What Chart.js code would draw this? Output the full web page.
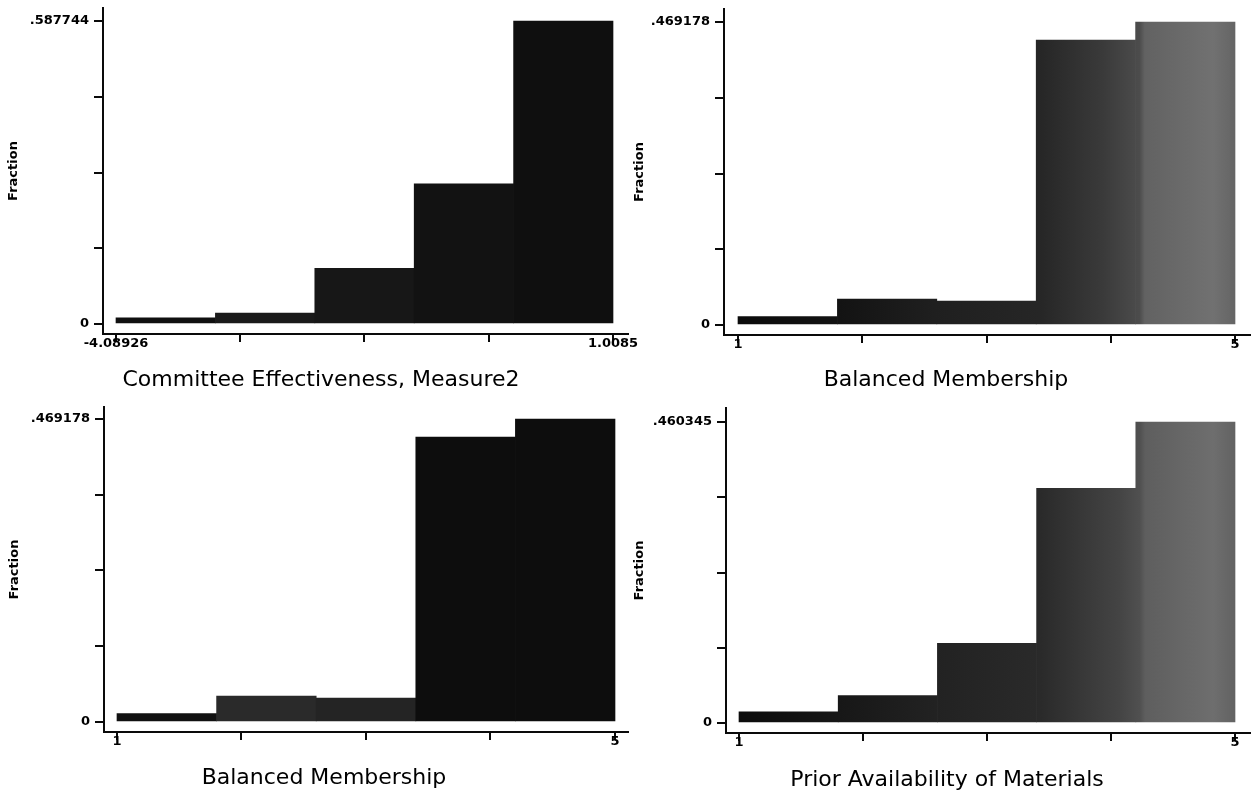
<!DOCTYPE html>
<html>
<head>
<meta charset="utf-8">
<title>Histograms</title>
<script src="https://cdn.jsdelivr.net/npm/chart.js@4.4.1/dist/chart.umd.min.js"></script>
<style>
html,body{margin:0;padding:0;background:#fff;overflow:hidden;}
#stage{position:relative;width:1251px;height:793px;overflow:hidden;background:#fff;}
#stage canvas{position:absolute;}
</style>
</head>
<body>
<div id="stage">
<canvas id="c1"></canvas><canvas id="c2"></canvas><canvas id="c3"></canvas><canvas id="c4"></canvas>
</div>
<script>
// ---------------- data ----------------
const effectivenessBinEdges   = [-4.08926, -3.069708, -2.050156, -1.030604, -0.011052, 1.0085];
const effectivenessFractions  = [0.012, 0.021, 0.108, 0.272, 0.587744];
const effectivenessXTickLabels = ['-4.08926', '1.0085'];
const effectivenessYTickLabels = ['0', '.587744'];

const membershipBinEdges   = [1, 1.8, 2.6, 3.4, 4.2, 5];
const membershipFractions  = [0.013, 0.040, 0.037, 0.441, 0.469178];
const membershipXTickLabels = ['1', '5'];
const membershipYTickLabels = ['0', '.469178'];

const materialsBinEdges   = [1, 1.8, 2.6, 3.4, 4.2, 5];
const materialsFractions  = [0.017, 0.042, 0.122, 0.359, 0.460345];
const materialsXTickLabels = ['1', '5'];
const materialsYTickLabels = ['0', '.460345'];

const yAxisTitle = 'Fraction';
const xAxisTitles = ['Committee Effectiveness, Measure2', 'Balanced Membership', 'Balanced Membership', 'Prior Availability of Materials'];

// ---------------- styling / layout ----------------
Chart.defaults.font.family = "'DejaVu Sans', 'Liberation Sans', sans-serif";
Chart.defaults.color = '#000';

const TITLE_FONT = {family: "'DejaVu Sans', sans-serif", size: 22, weight: 'normal', lineHeight: 1.2};
const TICK_FONT  = {family: "'DejaVu Sans', sans-serif", size: 13, weight: 'bold', lineHeight: 1.2};
const YT_FONT    = {family: "'DejaVu Sans', sans-serif", size: 13, weight: 'bold', lineHeight: 1.2};
const TITLE_LH = TITLE_FONT.size * TITLE_FONT.lineHeight;
const YT_LH = YT_FONT.size * YT_FONT.lineHeight;
const INK = '#0a0a0a';

const darkToGrey = [[0,'#0a0a0a'],[0.22,'#131313'],[0.4,'#1f1f1f'],[0.6,'#262626'],[0.72,'#3a3a3a'],[0.79,'#4c4c4c'],[0.8,'#626262'],[0.93,'#717171'],[1,'#5c5c5c']];
const darkToGrey2 = [[0,'#0a0a0a'],[0.2,'#161616'],[0.4,'#222222'],[0.6,'#2a2a2a'],[0.75,'#444444'],[0.79,'#505050'],[0.8,'#5e5e5e'],[0.93,'#6e6e6e'],[1,'#5a5a5a']];

const panels = [
  {id:'c1', edges:effectivenessBinEdges, values:effectivenessFractions, xLabels:effectivenessXTickLabels, yLabels:effectivenessYTickLabels, title:xAxisTitles[0],
   box:{left:0, top:0, width:640}, area:{left:103, right:628, top:8, bottom:334}, gap:{xLo:13, xHi:15, yLo:10, yHi:13},
   titleAt:{x:321, y:380}, yTitleX:14, fill:['#101010','#1a1a1a','#171717','#121212','#0f0f0f']},
  {id:'c2', edges:membershipBinEdges, values:membershipFractions, xLabels:membershipXTickLabels, yLabels:membershipYTickLabels, title:xAxisTitles[1],
   box:{left:625, top:0, width:626}, area:{left:724, right:1250, top:9, bottom:335}, gap:{xLo:14, xHi:15, yLo:10, yHi:13},
   titleAt:{x:946, y:380}, yTitleX:640, gradient:darkToGrey},
  {id:'c3', edges:membershipBinEdges, values:membershipFractions, xLabels:membershipXTickLabels, yLabels:membershipYTickLabels, title:xAxisTitles[2],
   box:{left:0, top:396, width:640}, area:{left:104, right:628, top:407, bottom:732}, gap:{xLo:13, xHi:13, yLo:10, yHi:12},
   titleAt:{x:324, y:778}, yTitleX:15, fill:['#111111','#2a2a2a','#242424','#0d0d0d','#0d0d0d']},
  {id:'c4', edges:materialsBinEdges, values:materialsFractions, xLabels:materialsXTickLabels, yLabels:materialsYTickLabels, title:xAxisTitles[3],
   box:{left:625, top:396, width:626}, area:{left:726, right:1250, top:408, bottom:733}, gap:{xLo:13, xHi:15, yLo:10, yHi:14},
   titleAt:{x:947, y:780}, yTitleX:640, gradient:darkToGrey2}
];

function build(p) {
  const cv = document.getElementById(p.id);
  const W = p.box.width;
  const titleLocalY = p.titleAt.y - p.box.top;
  const H = Math.ceil(titleLocalY + TITLE_LH / 2);
  cv.width = W; cv.height = H;
  cv.style.left = p.box.left + 'px'; cv.style.top = p.box.top + 'px';
  cv.style.width = W + 'px'; cv.style.height = H + 'px';

  const aL = p.area.left - p.box.left, aR = p.area.right - p.box.left;
  const aT = p.area.top - p.box.top, aB = p.area.bottom - p.box.top;
  const padL = 2 * (p.titleAt.x - p.box.left) - aR;
  const padR = W - aR;
  const yW = aL - padL;
  const tPadTop = 2, tPadBottom = H - TITLE_LH / 2 - titleLocalY;
  const boxTop = H - (TITLE_LH + tPadTop + tPadBottom);
  const xH = boxTop - aB;
  const yTitlePad = (p.yTitleX - p.box.left - padL) - YT_LH / 2;

  // scale ranges (axis lines sit a little outside the data, as in the original)
  const e0 = p.edges[0], e1 = p.edges[p.edges.length - 1];
  const xppu = ((aR - aL) - p.gap.xLo - p.gap.xHi) / (e1 - e0);
  const xMin = e0 - p.gap.xLo / xppu, xMax = e1 + p.gap.xHi / xppu;
  const yTop = Math.max(...p.values);
  const yppu = ((aB - aT) - p.gap.yLo - p.gap.yHi) / yTop;
  const yMin = -p.gap.yLo / yppu, yMax = yTop + p.gap.yHi / yppu;

  const xTicks = [0, 1, 2, 3, 4].map(k => e0 + k * (e1 - e0) / 4);
  const yTicks = [0, 1, 2, 3, 4].map(k => k * yTop / 4);

  const points = p.values.map((v, i) => ({x: (p.edges[i] + p.edges[i + 1]) / 2, y: v}));

  const bg = p.gradient ? (ctx) => {
    const ca = ctx.chart.chartArea;
    if (!ca) return p.gradient[0][1];
    const g = ctx.chart.ctx.createLinearGradient(ca.left, 0, ca.right, 0);
    p.gradient.forEach(([o, c]) => g.addColorStop(o, c));
    return g;
  } : p.fill;

  new Chart(cv, {
    type: 'bar',
    data: {datasets: [{data: points, backgroundColor: bg, borderWidth: 0, barPercentage: 1, categoryPercentage: 1}]},
    options: {
      responsive: false, animation: false, maintainAspectRatio: false,
      layout: {padding: {left: padL, right: padR, top: aT, bottom: 0}},
      plugins: {
        legend: {display: false}, tooltip: {enabled: false},
        title: {display: true, position: 'bottom', text: p.title, font: TITLE_FONT, color: '#000',
                padding: {top: tPadTop, bottom: tPadBottom}}
      },
      scales: {
        x: {
          type: 'linear', min: xMin, max: xMax, bounds: 'data', offset: false,
          grid: {display: true, drawOnChartArea: false, drawTicks: true, tickLength: 8, lineWidth: 2, color: INK, offset: false},
          border: {display: true, width: 2, color: INK},
          ticks: {font: TICK_FONT, color: '#000', padding: -6, autoSkip: false, maxRotation: 0,
                  callback: (v, i, t) => i === 0 ? p.xLabels[0] : (i === t.length - 1 ? p.xLabels[1] : '')},
          afterBuildTicks: s => { s.ticks = xTicks.map(v => ({value: v})); },
          afterFit: s => { s.height = xH; s.paddingLeft = 0; s.paddingRight = 0; s.paddingTop = 0; s.paddingBottom = 0; }
        },
        y: {
          type: 'linear', min: yMin, max: yMax, bounds: 'data',
          grid: {display: true, drawOnChartArea: false, drawTicks: true, tickLength: 9, lineWidth: 2, color: INK},
          border: {display: true, width: 2, color: INK},
          title: {display: true, text: yAxisTitle, font: YT_FONT, color: '#000', padding: {top: yTitlePad, bottom: 0}},
          ticks: {font: TICK_FONT, color: '#000', padding: 5, autoSkip: false,
                  callback: (v, i, t) => i === 0 ? p.yLabels[0] : (i === t.length - 1 ? p.yLabels[1] : '')},
          afterBuildTicks: s => { s.ticks = yTicks.map(v => ({value: v})); },
          afterFit: s => { s.width = yW; s.paddingLeft = 0; s.paddingRight = 0; s.paddingTop = 0; s.paddingBottom = 0; }
        }
      }
    }
  });
}

panels.forEach(build);
</script>
</body>
</html>
